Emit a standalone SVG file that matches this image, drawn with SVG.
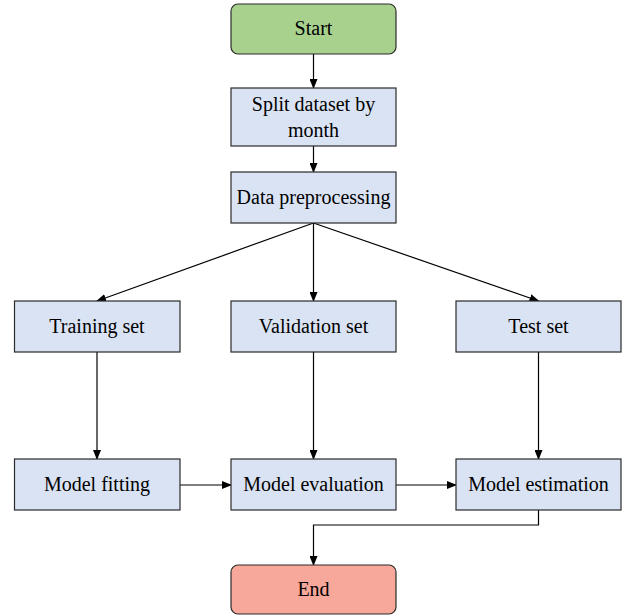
<svg xmlns="http://www.w3.org/2000/svg" width="625" height="616" viewBox="0 0 625 616" font-family="'Liberation Serif','Times New Roman',serif">
<defs>
<style>
.box{fill:#DAE3F3;stroke:#2b2b2b;stroke-width:1.2}
.start{fill:#A9D18E;stroke:#2b2b2b;stroke-width:1.2}
.end{fill:#F8A89A;stroke:#2b2b2b;stroke-width:1.2}
text{font-family:"Liberation Serif","Times New Roman",serif;font-size:20px;fill:#000;text-anchor:middle}
.c line,.c polyline{stroke:#000;stroke-width:1.2;fill:none;marker-end:url(#ah)}
</style>
<marker id="ah" markerWidth="10" markerHeight="8" refX="9" refY="4" orient="auto" markerUnits="userSpaceOnUse">
<path d="M0,0 L10,4 L0,8 z" fill="#000"/>
</marker>
</defs>
<rect width="625" height="616" fill="#fff"/>
<g class="c" id="connectors">
<line x1="313.5" y1="54" x2="313.5" y2="88"/>
<line x1="313.5" y1="146" x2="313.5" y2="172"/>
<line x1="313.5" y1="223" x2="97" y2="301"/>
<line x1="313.5" y1="223" x2="313.5" y2="301"/>
<line x1="313.5" y1="223" x2="538.5" y2="301"/>
<line x1="97" y1="352" x2="97" y2="459"/>
<line x1="313.5" y1="352" x2="313.5" y2="459"/>
<line x1="538.5" y1="352" x2="538.5" y2="459"/>
<line x1="180" y1="485" x2="231" y2="485"/>
<line x1="396" y1="485" x2="456" y2="485"/>
<polyline points="538.5,510 538.5,525 313.5,525 313.5,565"/>
</g>
<g id="start"><rect class="start" x="231" y="4" width="165" height="50" rx="7"/><text x="313.5" y="35">Start</text></g>
<g id="split"><rect class="box" x="231" y="88" width="165" height="58"/><text x="313.5" y="111">Split dataset by</text><text x="313.5" y="137">month</text></g>
<g id="prep"><rect class="box" x="231" y="172" width="165" height="51"/><text x="313.5" y="204">Data preprocessing</text></g>
<g id="train"><rect class="box" x="14.5" y="301" width="165.5" height="51"/><text x="97" y="333">Training set</text></g>
<g id="valid"><rect class="box" x="231" y="301" width="165" height="51"/><text x="313.5" y="333">Validation set</text></g>
<g id="test"><rect class="box" x="456" y="301" width="165" height="51"/><text x="538.5" y="333">Test set</text></g>
<g id="fit"><rect class="box" x="14.5" y="459" width="165.5" height="51"/><text x="97" y="491">Model fitting</text></g>
<g id="eval"><rect class="box" x="231" y="459" width="165" height="51"/><text x="313.5" y="491">Model evaluation</text></g>
<g id="estim"><rect class="box" x="456" y="459" width="165" height="51"/><text x="538.5" y="491">Model estimation</text></g>
<g id="end"><rect class="end" x="231" y="565" width="165" height="49" rx="7"/><text x="313.5" y="596">End</text></g>
</svg>
